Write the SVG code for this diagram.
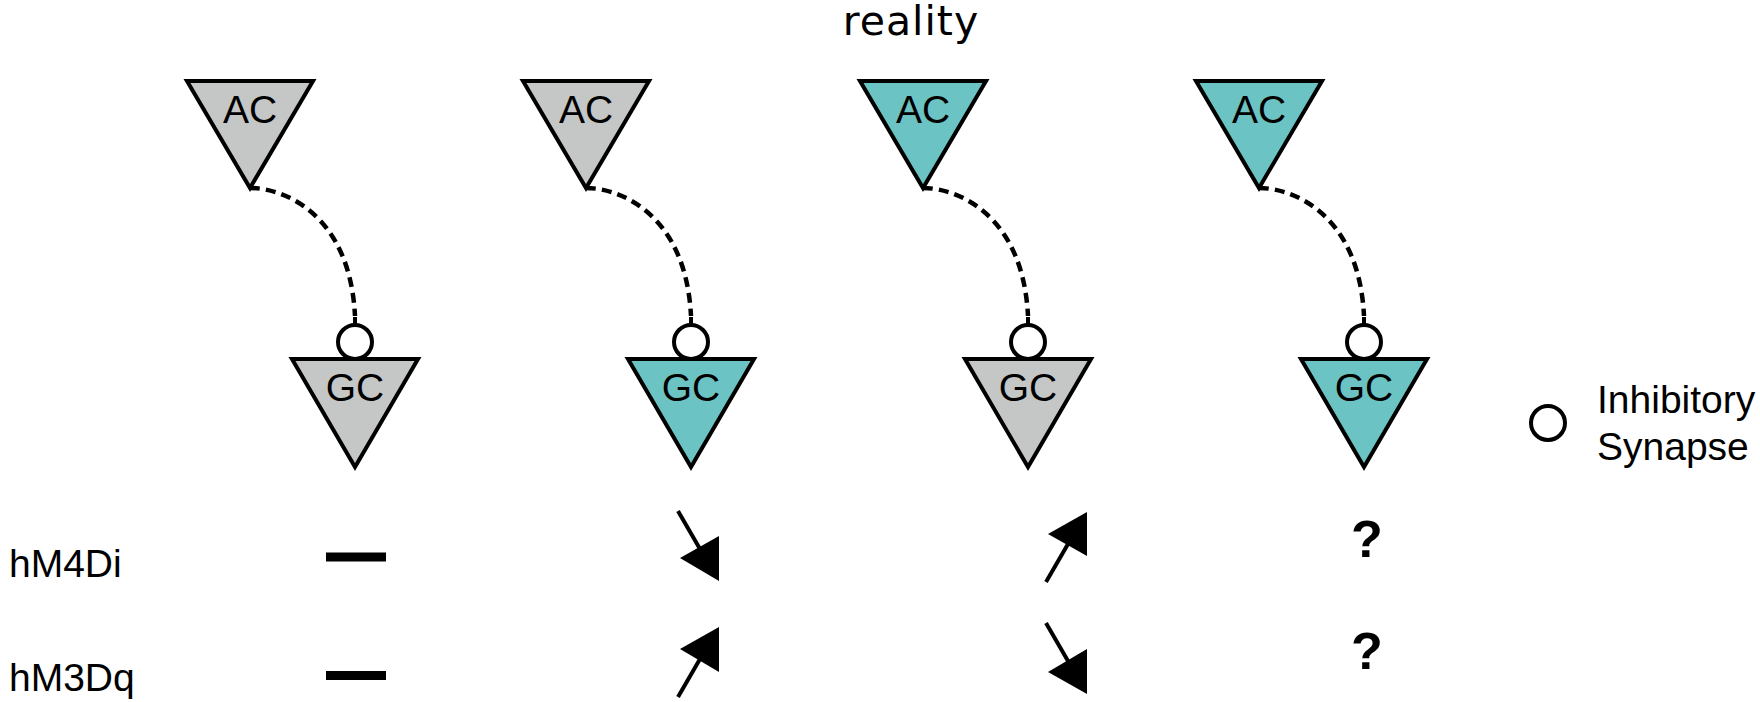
<svg xmlns="http://www.w3.org/2000/svg" width="1760" height="702" viewBox="0 0 1760 702">
<style>
.tri{stroke:#000;stroke-width:4;stroke-linejoin:miter}
.gray{fill:#c4c7c6}
.teal{fill:#6bc4c3}
.syn{fill:#fff;stroke:#000;stroke-width:4}
.lbl{font-family:"Liberation Sans",Arial,sans-serif;font-size:39px;fill:#000}
.mid{text-anchor:middle}
.dash{fill:none;stroke:#000;stroke-width:4.5;stroke-dasharray:10 6}
.stub{stroke:#000;stroke-width:4}
.arr{stroke:#000;stroke-width:4}
.q{font-family:"Liberation Sans",Arial,sans-serif;font-size:52px;font-weight:bold;text-anchor:middle;fill:#000}
</style>
<rect width="1760" height="702" fill="#fff"/>
<text x="911" y="35" style="font-family:'DejaVu Sans',Verdana,sans-serif;font-size:41px;letter-spacing:1px" text-anchor="middle">reality</text>

<g id="connectors">
<path class="dash" d="M250,188 C285,188 350,215 355,316"/>
<path class="dash" d="M586,188 C621,188 686,215 691,316"/>
<path class="dash" d="M923,188 C958,188 1023,215 1028,316"/>
<path class="dash" d="M1259,188 C1294,188 1359,215 1364,316"/>
<line class="stub" x1="355" y1="317" x2="355" y2="325"/>
<line class="stub" x1="691" y1="317" x2="691" y2="325"/>
<line class="stub" x1="1028" y1="317" x2="1028" y2="325"/>
<line class="stub" x1="1364" y1="317" x2="1364" y2="325"/>
</g>

<g id="ac1"><polygon class="tri gray" points="187,81 313,81 250,188"/><text class="lbl mid" x="250" y="123">AC</text></g>
<g id="ac2"><polygon class="tri gray" points="523,81 649,81 586,188"/><text class="lbl mid" x="586" y="123">AC</text></g>
<g id="ac3"><polygon class="tri teal" points="860,81 986,81 923,188"/><text class="lbl mid" x="923" y="123">AC</text></g>
<g id="ac4"><polygon class="tri teal" points="1196,81 1322,81 1259,188"/><text class="lbl mid" x="1259" y="123">AC</text></g>

<g id="gc1"><circle class="syn" cx="355" cy="342" r="17"/><polygon class="tri gray" points="292,359 418,359 355,467"/><text class="lbl mid" x="355" y="401">GC</text></g>
<g id="gc2"><circle class="syn" cx="691" cy="342" r="17"/><polygon class="tri teal" points="628,359 754,359 691,467"/><text class="lbl mid" x="691" y="401">GC</text></g>
<g id="gc3"><circle class="syn" cx="1028" cy="342" r="17"/><polygon class="tri gray" points="965,359 1091,359 1028,467"/><text class="lbl mid" x="1028" y="401">GC</text></g>
<g id="gc4"><circle class="syn" cx="1364" cy="342" r="17"/><polygon class="tri teal" points="1301,359 1427,359 1364,467"/><text class="lbl mid" x="1364" y="401">GC</text></g>

<g id="legend">
<circle class="syn" cx="1548" cy="423" r="17"/>
<text class="lbl" x="1597" y="413">Inhibitory</text>
<text class="lbl" x="1597" y="460">Synapse</text>
</g>

<g id="row-labels">
<text class="lbl" x="9" y="577">hM4Di</text>
<text class="lbl" x="9" y="691">hM3Dq</text>
</g>

<g id="effects">
<rect x="326" y="552.5" width="60" height="9" fill="#000"/>
<rect x="326" y="671" width="60" height="9" fill="#000"/>
<line class="arr" x1="678" y1="511" x2="700" y2="549"/>
<polygon points="680,558 719,536 719,581" fill="#000"/>
<line class="arr" x1="678" y1="697" x2="700" y2="659"/>
<polygon points="680,649 719,627 719,672" fill="#000"/>
<line class="arr" x1="1046" y1="582" x2="1068" y2="544"/>
<polygon points="1048,534 1087,512 1087,556" fill="#000"/>
<line class="arr" x1="1046" y1="623" x2="1068" y2="661"/>
<polygon points="1048,672 1087,649 1087,694" fill="#000"/>
<text class="q" x="1367" y="557">?</text>
<text class="q" x="1367" y="669">?</text>
</g>
</svg>
